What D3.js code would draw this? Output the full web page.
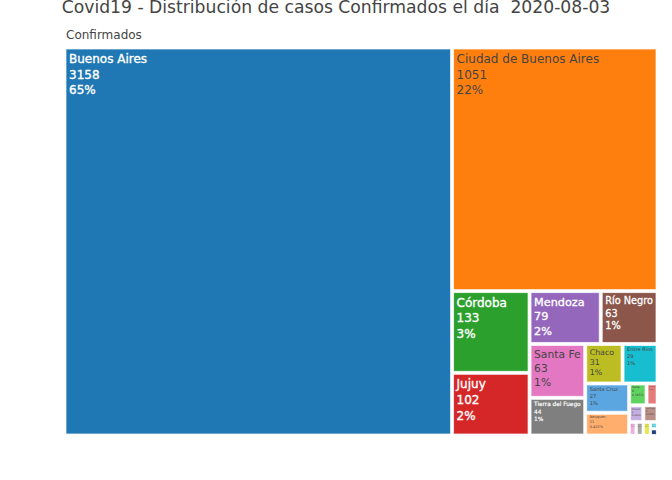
<!DOCTYPE html>
<html>
<head>
<meta charset="utf-8">
<script src="https://cdn.jsdelivr.net/npm/d3@7"></script>
<style>
  html, body { margin: 0; padding: 0; background: #fff; }
  svg { display: block; }
  text { font-family: "DejaVu Sans", Verdana, sans-serif; white-space: pre; }
</style>
</head>
<body>
<div id="chart"></div>
<script>
// Names of the tiniest tiles are too small to read in the source, so those are estimates
const provinces = ['Buenos Aires', 'Ciudad de Buenos Aires', 'Córdoba', 'Jujuy', 'Mendoza', 'Río Negro',
    'Santa Fe', 'Tierra del Fuego', 'Chaco', 'Entre Ríos', 'Santa Cruz', 'Neuquén', 'Salta', 'Tucumán',
    'Chubut', 'La Rioja', 'Corrientes', 'San Juan', 'La Pampa', 'Misiones', 'Formosa'];
const cases = [3158, 1051, 133, 102, 79, 63, 63, 44, 31, 29, 27, 21, 8, 5, 5, 5, 2, 2, 2, 1, 1];
const shares = ['65%', '22%', '3%', '2%', '2%', '1%', '1%', '1%', '1%', '1%', '1%', '0.432%', '0.165%',
    '0.103%', '0.103%', '0.103%', '0.041%', '0.041%', '0.041%', '0.021%', '0.021%'];
const colors = ['#1f77b4', '#ff7f0e', '#2ca02c', '#d62728', '#9467bd', '#8c564b', '#e377c2', '#7f7f7f',
    '#bcbd22', '#17becf', '#5ba6e0', '#ffae6e', '#5fd35f', '#e57b7b', '#c5aee0', '#b98f87', '#f0b0dc',
    '#a8a8a8', '#e6e64d', '#6adfee', '#1f3f7a'];
const lightText = ['Buenos Aires', 'Córdoba', 'Jujuy', 'Mendoza', 'Río Negro', 'Tierra del Fuego'];

const width = 672, height = 480;
const area = { left: 66, top: 49, right: 656, bottom: 434 };
const gap = 3;

const svg = d3.select('#chart').append('svg')
    .attr('width', width)
    .attr('height', height);

svg.append('text')
    .attr('x', 336)
    .attr('y', 13)
    .attr('text-anchor', 'middle')
    .style('font-size', '17.2px')
    .style('fill', '#444')
    .text('Covid19 - Distribución de casos Confirmados el día  2020-08-03');

svg.append('text')
    .attr('x', 66)
    .attr('y', 39)
    .style('font-size', '12px')
    .style('fill', '#444')
    .text('Confirmados');

const root = d3.hierarchy({ children: provinces.map((name, i) => ({ name, value: cases[i], share: shares[i], color: colors[i] })) })
    .sum(d => d.value || 0);

// Lay out with no padding, then inset each tile so the tiniest ones do not collapse
d3.treemap()
    .tile(d3.treemapSquarify.ratio(1))
    .size([area.right - area.left + gap, area.bottom - area.top + gap])(root);

root.leaves().forEach(d => {
    const w = d.x1 - d.x0, h = d.y1 - d.y0;
    const insetX = Math.min(gap / 2, w * 0.2), insetY = Math.min(gap / 2, h * 0.2);
    d.x0 += insetX - gap / 2;
    d.x1 -= insetX + gap / 2;
    d.y0 += insetY - gap / 2;
    d.y1 -= insetY + gap / 2;
});

const tiles = svg.append('g')
    .attr('transform', `translate(${area.left},${area.top})`)
    .selectAll('g')
    .data(root.leaves())
    .join('g')
    .attr('transform', d => `translate(${d.x0},${d.y0})`);

tiles.append('rect')
    .attr('width', d => d.x1 - d.x0)
    .attr('height', d => d.y1 - d.y0)
    .attr('fill', d => d.data.color)
    .attr('stroke', '#fff')
    .attr('stroke-opacity', 0.7)
    .attr('stroke-width', d => Math.min(1, (d.x1 - d.x0) * 0.1));

const measure = svg.append('text').style('font-size', '12px');
tiles.each(function (d) {
    const w = d.x1 - d.x0, h = d.y1 - d.y0;
    const lines = [d.data.name, d.data.value, d.data.share];
    // Shrink the label until it fits its tile, the way plotly does
    const textWidth = d3.max(lines, t => measure.text(t).node().getComputedTextLength());
    const inset = Math.min(3, w * 0.1);
    const fit = Math.min(1, (w - 2 * inset) / textWidth, (h - 2 * inset) / (3 * 15.6));
    const scale = Math.max(fit, 1 / 12);
    const light = lightText.includes(d.data.name);
    const label = d3.select(this).append('text')
        .style('font-size', `${12 * scale}px`)
        .style('fill', light ? '#fff' : '#444')
        .style('stroke', light ? '#fff' : 'none')
        .style('stroke-width', light ? 0.35 * scale : 0);
    lines.forEach((t, i) => {
        label.append('tspan')
            .attr('x', inset)
            .attr('y', (14 + i * 15.6) * scale)
            .text(t);
    });
});
measure.remove();
</script>
</body>
</html>
